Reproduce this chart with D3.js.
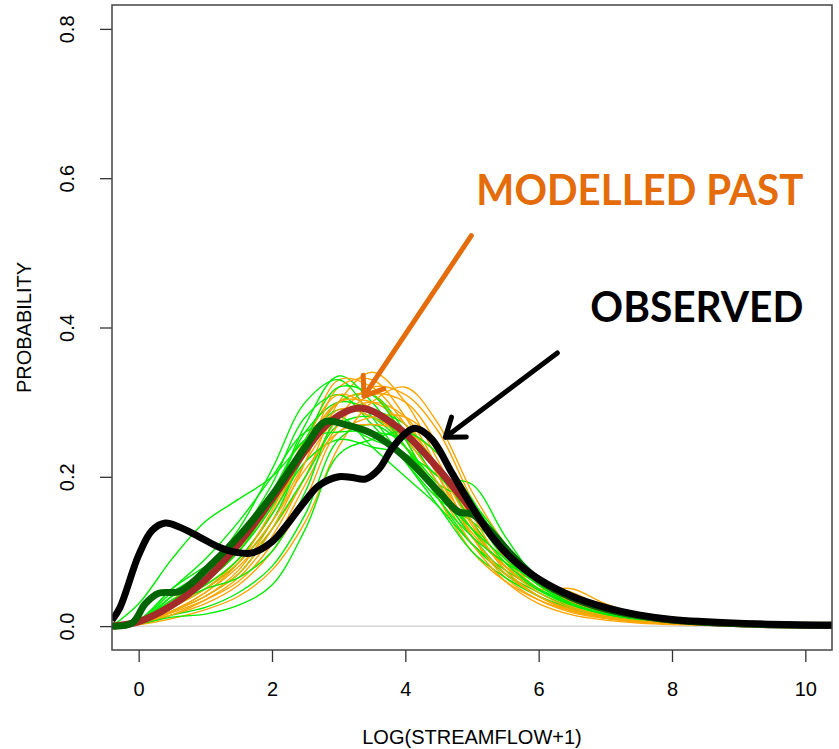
<!DOCTYPE html>
<html>
<head>
<meta charset="utf-8">
<script src="https://cdn.jsdelivr.net/npm/d3@7"></script>
<style>
  body { margin: 0; background: #fff; }
  svg text { font-family: "Liberation Sans", Arial, sans-serif; }
</style>
</head>
<body>
<div id="chart"></div>
<script>
// ---- data -------------------------------------------------------------
const X_TICKS = [0, 2, 4, 6, 8, 10];
const Y_TICKS = [0, 0.2, 0.4, 0.6, 0.8];

// grid for the thin ensemble curves
const THIN_X = [-0.4, 0, 0.5, 1, 1.5, 2, 2.5, 3, 3.5, 4, 4.5, 5, 5.5, 6, 6.5, 7, 7.5, 8, 9, 10.4];

const GREEN_RUNS = [
  [0, 0.03, 0.09, 0.14, 0.17, 0.2, 0.25, 0.29, 0.28, 0.24, 0.18, 0.12, 0.07, 0.04, 0.02, 0.012, 0.007, 0.004, 0.001, 0],
  [0, 0.005, 0.03, 0.06, 0.1, 0.17, 0.27, 0.335, 0.3, 0.24, 0.17, 0.11, 0.07, 0.045, 0.025, 0.014, 0.008, 0.005, 0.001, 0],
  [0, 0.004, 0.02, 0.04, 0.07, 0.13, 0.2, 0.27, 0.28, 0.25, 0.2, 0.19, 0.12, 0.06, 0.03, 0.015, 0.008, 0.004, 0.001, 0],
  [0, 0.008, 0.05, 0.08, 0.11, 0.16, 0.23, 0.3, 0.31, 0.26, 0.19, 0.13, 0.08, 0.05, 0.03, 0.018, 0.01, 0.005, 0.001, 0],
  [0, 0.006, 0.04, 0.07, 0.12, 0.19, 0.28, 0.31, 0.27, 0.22, 0.17, 0.14, 0.1, 0.06, 0.032, 0.018, 0.01, 0.005, 0.001, 0],
  [0, 0.003, 0.015, 0.025, 0.045, 0.08, 0.15, 0.25, 0.27, 0.24, 0.19, 0.165, 0.11, 0.065, 0.035, 0.02, 0.012, 0.006, 0.002, 0],
  [0, 0.007, 0.045, 0.075, 0.13, 0.21, 0.3, 0.33, 0.28, 0.22, 0.16, 0.1, 0.065, 0.04, 0.024, 0.014, 0.008, 0.004, 0.001, 0],
  [0, 0.005, 0.035, 0.055, 0.09, 0.15, 0.22, 0.25, 0.24, 0.23, 0.2, 0.15, 0.09, 0.055, 0.03, 0.016, 0.009, 0.005, 0.001, 0],
  [0, 0.006, 0.04, 0.065, 0.1, 0.17, 0.26, 0.3, 0.29, 0.27, 0.21, 0.14, 0.085, 0.05, 0.028, 0.016, 0.009, 0.005, 0.001, 0],
  [0, 0.004, 0.025, 0.05, 0.085, 0.14, 0.23, 0.28, 0.24, 0.2, 0.16, 0.11, 0.075, 0.048, 0.028, 0.016, 0.009, 0.005, 0.001, 0],
  [0, 0.008, 0.05, 0.09, 0.14, 0.2, 0.26, 0.27, 0.25, 0.23, 0.18, 0.12, 0.07, 0.04, 0.022, 0.012, 0.007, 0.004, 0.001, 0],
  [0, 0.003, 0.012, 0.016, 0.028, 0.055, 0.13, 0.23, 0.25, 0.26, 0.23, 0.17, 0.1, 0.055, 0.03, 0.017, 0.01, 0.005, 0.001, 0],
  [0, 0.006, 0.035, 0.06, 0.1, 0.16, 0.25, 0.32, 0.31, 0.25, 0.17, 0.12, 0.085, 0.06, 0.035, 0.02, 0.011, 0.006, 0.002, 0],
  [0, 0.005, 0.04, 0.07, 0.11, 0.18, 0.25, 0.26, 0.26, 0.25, 0.21, 0.16, 0.1, 0.06, 0.035, 0.02, 0.012, 0.006, 0.002, 0],
  [0, 0.004, 0.03, 0.05, 0.065, 0.1, 0.18, 0.28, 0.29, 0.24, 0.18, 0.13, 0.09, 0.055, 0.03, 0.017, 0.01, 0.005, 0.001, 0]
];

const ORANGE_RUNS = [
  [0, 0.003, 0.02, 0.045, 0.08, 0.13, 0.2, 0.3, 0.34, 0.3, 0.22, 0.14, 0.085, 0.05, 0.028, 0.016, 0.009, 0.005, 0.001, 0],
  [0, 0.002, 0.015, 0.035, 0.065, 0.12, 0.2, 0.28, 0.32, 0.31, 0.26, 0.17, 0.1, 0.055, 0.03, 0.017, 0.01, 0.005, 0.001, 0],
  [0, 0.004, 0.03, 0.055, 0.09, 0.15, 0.24, 0.33, 0.32, 0.27, 0.2, 0.13, 0.08, 0.06, 0.045, 0.025, 0.012, 0.006, 0.002, 0],
  [0, 0.003, 0.02, 0.04, 0.075, 0.14, 0.22, 0.28, 0.3, 0.28, 0.21, 0.12, 0.065, 0.035, 0.018, 0.01, 0.005, 0.003, 0.001, 0],
  [0, 0.005, 0.035, 0.065, 0.1, 0.16, 0.23, 0.3, 0.31, 0.25, 0.17, 0.1, 0.06, 0.035, 0.02, 0.011, 0.006, 0.003, 0.001, 0],
  [0, 0.002, 0.01, 0.022, 0.04, 0.075, 0.14, 0.24, 0.3, 0.32, 0.27, 0.18, 0.11, 0.06, 0.032, 0.018, 0.01, 0.005, 0.001, 0],
  [0, 0.003, 0.025, 0.05, 0.09, 0.15, 0.23, 0.29, 0.28, 0.25, 0.19, 0.125, 0.08, 0.05, 0.05, 0.03, 0.015, 0.007, 0.002, 0],
  [0, 0.004, 0.028, 0.06, 0.1, 0.17, 0.25, 0.31, 0.29, 0.24, 0.18, 0.11, 0.06, 0.03, 0.015, 0.008, 0.004, 0.002, 0.001, 0],
  [0, 0.003, 0.015, 0.03, 0.055, 0.1, 0.17, 0.26, 0.27, 0.26, 0.23, 0.16, 0.09, 0.05, 0.026, 0.014, 0.008, 0.004, 0.001, 0],
  [0, 0.002, 0.02, 0.045, 0.085, 0.155, 0.24, 0.3, 0.3, 0.27, 0.21, 0.135, 0.075, 0.04, 0.02, 0.011, 0.006, 0.003, 0.001, 0],
  [0, 0.004, 0.025, 0.05, 0.085, 0.14, 0.21, 0.26, 0.28, 0.28, 0.24, 0.15, 0.08, 0.045, 0.024, 0.013, 0.007, 0.004, 0.001, 0],
  [0, 0.003, 0.02, 0.04, 0.07, 0.13, 0.22, 0.32, 0.33, 0.28, 0.2, 0.12, 0.07, 0.04, 0.022, 0.012, 0.007, 0.004, 0.001, 0],
  [0, 0.003, 0.018, 0.035, 0.06, 0.11, 0.19, 0.27, 0.31, 0.3, 0.24, 0.14, 0.075, 0.04, 0.021, 0.012, 0.006, 0.003, 0.001, 0]
];

// modelled past (mean of orange runs) - brown
const MOD_X = [-0.4, 0, 0.5, 1, 1.5, 2, 2.5, 2.8, 3.1, 3.3, 3.5, 3.8, 4, 4.5, 5, 5.5, 6, 6.5, 7, 7.5, 8, 9, 10.4];
const MOD_Y = [0, 0.006, 0.028, 0.062, 0.11, 0.17, 0.235, 0.268, 0.287, 0.292, 0.288, 0.272, 0.258, 0.21, 0.155, 0.1, 0.062, 0.038, 0.023, 0.014, 0.008, 0.003, 0.001];

// mean of green runs - dark green
const DG_X = [-0.4, -0.1, 0.1, 0.3, 0.6, 0.8, 1, 1.5, 2, 2.5, 2.8, 3.1, 3.5, 4, 4.5, 4.8, 5.0, 5.3, 5.6, 6, 6.5, 7, 7.5, 8, 9, 10.4];
const DG_Y = [0, 0.004, 0.03, 0.044, 0.046, 0.058, 0.075, 0.12, 0.175, 0.24, 0.274, 0.27, 0.258, 0.226, 0.18, 0.153, 0.15, 0.125, 0.095, 0.062, 0.038, 0.023, 0.014, 0.008, 0.003, 0.001];

// observed - black
const OBS_X = [-0.4, -0.28, 0, 0.2, 0.4, 0.6, 0.9, 1.2, 1.45, 1.7, 2.0, 2.2, 2.5, 2.7, 3.0, 3.2, 3.4, 3.6, 3.8, 4.0, 4.15, 4.4, 4.7, 5.0, 5.3, 5.6, 6.0, 6.5, 7.0, 7.5, 8.0, 9.0, 10.4];
const OBS_Y = [0.008, 0.025, 0.095, 0.128, 0.138, 0.133, 0.12, 0.106, 0.099, 0.098, 0.113, 0.133, 0.168, 0.188, 0.2, 0.199, 0.197, 0.21, 0.238, 0.258, 0.265, 0.25, 0.205, 0.16, 0.12, 0.09, 0.063, 0.04, 0.025, 0.015, 0.009, 0.004, 0.001];

// annotations, in data units (right edge / baseline)
const LABELS = [
  { text: 'MODELLED PAST', x: 9.97, y: 0.564, width: 327, color: '#e46c0a' },
  { text: 'OBSERVED', x: 9.97, y: 0.407, width: 213, color: '#000000' }
];
const ARROWS = [
  { from: [4.99, 0.523], to: [3.38, 0.308], color: '#e46c0a' },
  { from: [6.28, 0.366], to: [4.6, 0.253], color: '#000000' }
];

// ---- layout -----------------------------------------------------------
const width = 839, height = 749;
const box = { left: 112, right: 832, top: 5, bottom: 650 };

const svg = d3.select('#chart').append('svg')
  .attr('width', width).attr('height', height);

// R style 4% padding around [0,10] x [0,0.8]
const x = d3.scaleLinear().domain([-0.4, 10.4]).range([box.left, box.right]);
const y = d3.scaleLinear().domain([-0.032, 0.832]).range([box.bottom, box.top]);

svg.append('clipPath').attr('id', 'clip')
  .append('rect')
  .attr('x', box.left).attr('y', box.top)
  .attr('width', box.right - box.left).attr('height', box.bottom - box.top);

const plot = svg.append('g').attr('clip-path', 'url(#clip)');

// zero line
plot.append('line')
  .attr('x1', box.left).attr('x2', box.right)
  .attr('y1', y(0)).attr('y2', y(0))
  .attr('stroke', '#bebebe').attr('stroke-width', 1);

const lineGen = (xs) => d3.line()
  .curve(d3.curveCatmullRom.alpha(0.5))
  .x((d, i) => x(xs[i]))
  .y(d => y(d));

// thin runs, orange and green interleaved
const thin = [];
for (let i = 0; i < Math.max(GREEN_RUNS.length, ORANGE_RUNS.length); i++) {
  if (ORANGE_RUNS[i]) thin.push({ vals: ORANGE_RUNS[i], color: '#ffa500' });
  if (GREEN_RUNS[i]) thin.push({ vals: GREEN_RUNS[i], color: '#00ee00' });
}
plot.selectAll('path.run')
  .data(thin)
  .join('path')
  .attr('class', 'run')
  .attr('fill', 'none')
  .attr('stroke', d => d.color)
  .attr('stroke-width', 1.4)
  .attr('d', d => lineGen(THIN_X)(d.vals));

plot.append('path')
  .attr('fill', 'none').attr('stroke', '#a52a2a').attr('stroke-width', 7)
  .attr('stroke-linejoin', 'round')
  .attr('d', lineGen(MOD_X)(MOD_Y));

plot.append('path')
  .attr('fill', 'none').attr('stroke', '#006400').attr('stroke-width', 7)
  .attr('stroke-linejoin', 'round')
  .attr('d', lineGen(DG_X)(DG_Y));

plot.append('path')
  .attr('fill', 'none').attr('stroke', '#000').attr('stroke-width', 7)
  .attr('stroke-linejoin', 'round')
  .attr('d', lineGen(OBS_X)(OBS_Y));

// ---- axes -------------------------------------------------------------
const axisX = svg.append('g')
  .attr('transform', `translate(0,${box.bottom})`)
  .call(d3.axisBottom(x).tickValues(X_TICKS).tickSize(12).tickPadding(20).tickFormat(d3.format('d')));
const axisY = svg.append('g')
  .attr('transform', `translate(${box.left},0)`)
  .call(d3.axisLeft(y).tickValues(Y_TICKS).tickSize(12).tickPadding(0).tickFormat(d3.format('.1f')));

[axisX, axisY].forEach(a => {
  a.select('.domain').remove();
  a.selectAll('line').attr('stroke', '#333').attr('stroke-width', 1.3);
  a.selectAll('text').attr('fill', '#000').style('font-size', '20px');
});
// rotated y tick labels as in R
axisY.selectAll('text')
  .attr('x', null).attr('dy', null)
  .attr('text-anchor', 'middle')
  .attr('transform', 'translate(-45,0) rotate(-90)')
  .attr('dy', '0.35em');

// box
svg.append('rect')
  .attr('x', box.left).attr('y', box.top)
  .attr('width', box.right - box.left).attr('height', box.bottom - box.top)
  .attr('fill', 'none').attr('stroke', '#444').attr('stroke-width', 1.5);

// axis titles
svg.append('text')
  .attr('x', (box.left + box.right) / 2).attr('y', 744)
  .attr('text-anchor', 'middle').style('font-size', '20px')
  .text('LOG(STREAMFLOW+1)');
svg.append('text')
  .attr('transform', `translate(31,${(box.top + box.bottom) / 2}) rotate(-90)`)
  .attr('text-anchor', 'middle').style('font-size', '20px')
  .text('PROBABILITY');

// ---- annotations ------------------------------------------------------
svg.selectAll('text.note')
  .data(LABELS)
  .join('text')
  .attr('class', 'note')
  .attr('x', d => x(d.x)).attr('y', d => y(d.y))
  .attr('text-anchor', 'end')
  .attr('fill', d => d.color)
  .attr('textLength', d => d.width)
  .attr('lengthAdjust', 'spacingAndGlyphs')
  .style('font-family', 'Lato, "Open Sans", sans-serif')
  .style('font-weight', 'bold')
  .style('font-size', '42px')
  .text(d => d.text);

const arrowPath = (d) => {
  const x0 = x(d.from[0]), y0 = y(d.from[1]);
  const x1 = x(d.to[0]), y1 = y(d.to[1]);
  const ang = Math.atan2(y1 - y0, x1 - x0);
  const len = 21, spread = Math.PI / 5;
  const b1 = [x1 - len * Math.cos(ang - spread), y1 - len * Math.sin(ang - spread)];
  const b2 = [x1 - len * Math.cos(ang + spread), y1 - len * Math.sin(ang + spread)];
  return `M${x0},${y0}L${x1},${y1}M${b1[0]},${b1[1]}L${x1},${y1}L${b2[0]},${b2[1]}`;
};
svg.selectAll('path.arrow')
  .data(ARROWS)
  .join('path')
  .attr('class', 'arrow')
  .attr('fill', 'none')
  .attr('stroke', d => d.color)
  .attr('stroke-width', 5)
  .attr('stroke-linecap', 'round')
  .attr('stroke-linejoin', 'round')
  .attr('d', arrowPath);
</script>
</body>
</html>
